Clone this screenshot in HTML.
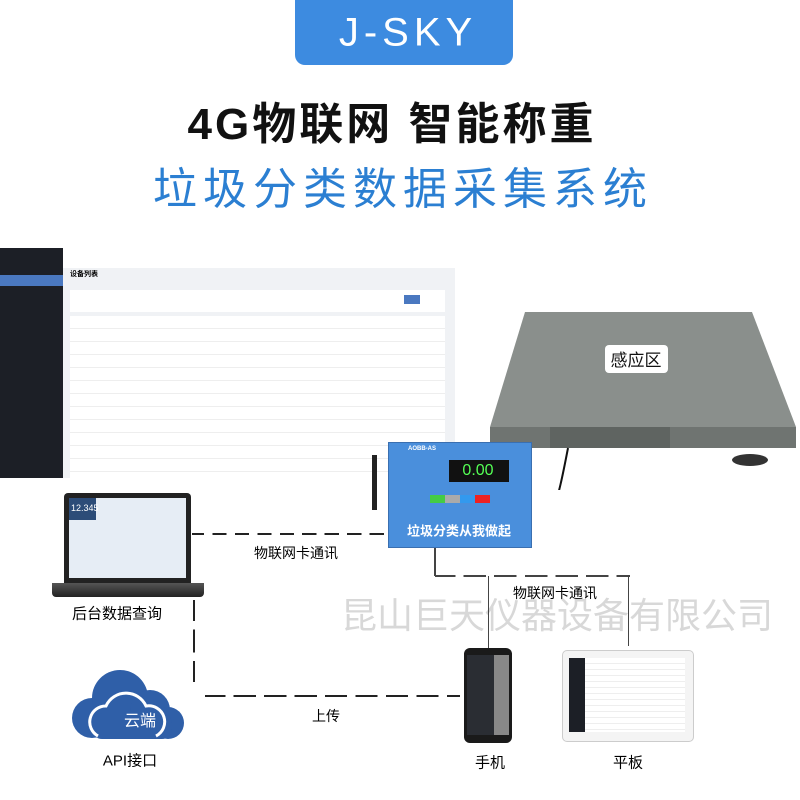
<!DOCTYPE html>
<html><head><meta charset="utf-8"><style>
body{margin:0;width:800px;height:800px;position:relative;overflow:hidden;background:#fff;font-family:"Liberation Sans","Noto Sans CJK SC",sans-serif}
.a{position:absolute}
.t{position:absolute;white-space:nowrap;transform:translate(-50%,-50%)}
.dh{position:absolute;height:0;border-top:2px dashed #222}
.dv{position:absolute;width:0;border-left:2px dashed #222}
</style></head><body>
<div class="a" style="left:295px;top:0;width:218px;height:65px;background:#3d8be0;border-radius:0 0 10px 10px"></div>
<div class="t" style="left:408px;top:33px;color:#fff;font-size:40px;letter-spacing:5px">J-SKY</div>
<div class="t" style="left:392px;top:120px;font-size:44px;font-weight:bold;color:#111;letter-spacing:3px">4G物联网 智能称重</div>
<div class="t" style="left:403px;top:185px;font-size:44px;color:#2b7fd2;letter-spacing:6px">垃圾分类数据采集系统</div>

<!-- dashboard -->
<div class="a" style="left:0;top:248px;width:455px;height:230px;background:#f0f2f5"></div>
<div class="a" style="left:0;top:248px;width:63px;height:230px;background:#1c1f26"></div>
<div class="a" style="left:0;top:275px;width:63px;height:11px;background:#4a78c0"></div>
<div class="a" style="left:63px;top:248px;width:392px;height:20px;background:#fff"></div>
<div class="a" style="left:70px;top:269px;font-size:7px;font-weight:bold">设备列表</div>
<div class="a" style="left:70px;top:290px;width:375px;height:22px;background:#fff"></div>
<div class="a" style="left:404px;top:295px;width:16px;height:9px;background:#4a78c0"></div>
<div class="a" style="left:70px;top:316px;width:375px;height:162px;background:#fff;background-image:repeating-linear-gradient(#fff 0 12px,#eee 12px 13px)"></div>

<!-- scale -->
<svg class="a" style="left:480px;top:300px" width="320" height="190">
<polygon points="45,12 272,12 316,127 10,127" fill="#8a8f8c"/>
<rect x="10" y="127" width="306" height="21" fill="#6f7471"/>
<rect x="70" y="127" width="120" height="21" fill="#5f6461"/>
<ellipse cx="270" cy="160" rx="18" ry="6" fill="#333"/>
<rect x="125" y="45" width="63" height="28" rx="4" fill="#fff"/>
<text x="156" y="66" font-size="17" text-anchor="middle" font-family="Noto Sans CJK SC" fill="#111">感应区</text>
<path d="M88 148 C78 200,70 240,40 248" stroke="#111" stroke-width="2" fill="none"/>
</svg>

<!-- indicator -->
<div class="a" style="left:388px;top:442px;width:142px;height:104px;background:#4a8fdc;border:1px solid #3a6fb0"></div>
<div class="a" style="left:372px;top:455px;width:5px;height:55px;background:#222"></div>
<div class="a" style="left:449px;top:460px;width:60px;height:22px;background:#111"></div>
<div class="t" style="left:478px;top:471px;color:#5f5;font-size:16px">0.00</div>
<div class="a" style="left:408px;top:446px;color:#fff;font-size:6px;font-weight:bold">AOBB-AS</div>
<div class="a" style="left:430px;top:495px;width:60px;height:8px;background:linear-gradient(90deg,#4c4 0 25%,#aaa 25% 50%,#39e 50% 75%,#e22 75%)"></div>
<div class="t" style="left:459px;top:530px;color:#fff;font-size:13px;font-weight:bold">垃圾分类从我做起</div>

<!-- laptop -->
<div class="a" style="left:64px;top:493px;width:127px;height:90px;background:#222;border-radius:4px 4px 0 0"></div>
<div class="a" style="left:69px;top:498px;width:117px;height:80px;background:#e6edf5"></div>
<div class="a" style="left:69px;top:498px;width:27px;height:22px;background:#2c4c78"></div>
<div class="a" style="left:71px;top:503px;color:#fff;font-size:9px">12.345</div>
<div class="a" style="left:52px;top:583px;width:152px;height:14px;background:linear-gradient(#555,#222);border-radius:0 0 4px 4px"></div>
<div class="t" style="left:117px;top:613px;font-size:15px">后台数据查询</div>

<!-- watermark -->
<div class="t" style="left:557px;top:613px;font-size:36px;color:#d8d8d8">昆山巨天仪器设备有限公司</div>

<!-- dashed lines -->
<div class="dh" style="left:192px;top:533px;width:196px;border-image:repeating-linear-gradient(90deg,#222 0 14px,transparent 14px 22px) 2"></div>
<div class="t" style="left:296px;top:553px;font-size:14px">物联网卡通讯</div>
<div class="dv" style="left:193px;top:600px;height:82px;border-left-style:solid;border-image:repeating-linear-gradient(#222 0 22px,transparent 22px 30px) 2"></div>
<div class="dh" style="left:205px;top:695px;width:255px;border-image:repeating-linear-gradient(90deg,#222 0 22px,transparent 22px 30px) 2"></div>
<div class="t" style="left:326px;top:716px;font-size:14px">上传</div>
<div class="a" style="left:434px;top:548px;width:2px;height:28px;background:#444"></div>
<div class="dh" style="left:435px;top:575px;width:195px;border-image:repeating-linear-gradient(90deg,#444 0 22px,transparent 22px 30px) 2"></div>
<div class="a" style="left:488px;top:576px;width:1px;height:72px;background:#444"></div>
<div class="a" style="left:628px;top:576px;width:1px;height:70px;background:#444"></div>
<div class="t" style="left:555px;top:593px;font-size:14px">物联网卡通讯</div>

<!-- cloud -->
<svg class="a" style="left:70px;top:668px" width="118" height="72">
<g fill="#2f5fa8"><circle cx="22" cy="50" r="20"/><circle cx="50" cy="30" r="28"/><circle cx="80" cy="42" r="20"/><circle cx="98" cy="55" r="16"/><rect x="22" y="45" width="80" height="26" rx="10"/></g>
<g fill="none" stroke="#fff" stroke-width="3"><path d="M28 68 a16 16 0 0 1 8-30 a22 22 0 0 1 40 0 a16 16 0 0 1 10 30"/></g>
<text x="70" y="58" font-size="16" text-anchor="middle" fill="#fff" font-family="Noto Sans CJK SC">云端</text>
</svg>
<div class="t" style="left:130px;top:760px;font-size:15px">API接口</div>

<!-- phone -->
<div class="a" style="left:464px;top:648px;width:48px;height:95px;background:#1a1a1a;border-radius:6px"></div>
<div class="a" style="left:467px;top:655px;width:42px;height:80px;background:#2a2d33"></div>
<div class="a" style="left:494px;top:655px;width:15px;height:80px;background:#888"></div>
<div class="t" style="left:490px;top:762px;font-size:15px">手机</div>

<!-- tablet -->
<div class="a" style="left:562px;top:650px;width:130px;height:90px;background:#f4f4f4;border:1px solid #ccc;border-radius:5px"></div>
<div class="a" style="left:569px;top:658px;width:116px;height:74px;background:#fff;background-image:repeating-linear-gradient(#fff 0 5px,#eee 5px 6px)"></div>
<div class="a" style="left:569px;top:658px;width:16px;height:74px;background:#1c1f26"></div>
<div class="t" style="left:628px;top:762px;font-size:15px">平板</div>
</body></html>
